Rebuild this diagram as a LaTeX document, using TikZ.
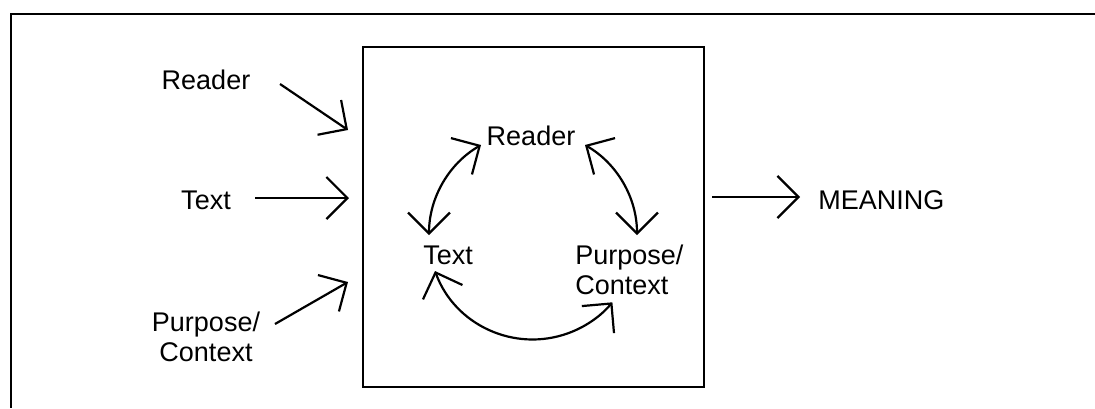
\documentclass[tikz,border=0pt]{standalone}
\usepackage{fontspec}
\setmainfont{Liberation Sans}
\usetikzlibrary{arrows.meta}

\begin{document}
\begin{tikzpicture}[x=0.5pt, y=-0.5pt,
        lbl/.style={font=\fontsize{13.5}{15}\selectfont},
        arr/.style={-{Straight Barb[length=10.5pt,width=21pt]}, line width=1.1pt},
        dbl/.style={{Straight Barb[length=10.5pt,width=21pt]}-{Straight Barb[length=10.5pt,width=21pt]}, line width=1.1pt}]
        \useasboundingbox (0,0) rectangle (1095,408);
        % frame
        \draw[line width=0.7pt] (1095,14) -- (11,14) -- (11,408);
        \node[draw, line width=0.8pt, minimum width=170.5pt, minimum height=170pt, inner sep=0pt] (box) at (533.5,217) {};
        % inputs
        \node[lbl] (rdrL) at (206,80) {Reader};
        \node[lbl] (txtL) at (206,200) {Text};
        \node[lbl, align=center] (ppsL) at (206,337) {Purpose/\\Context};
        \coordinate (rdrA) at (280,84);  \coordinate (rdrB) at (348,130);
        \coordinate (txtA) at (255,198); \coordinate (txtB) at (349,198);
        \coordinate (ppsA) at (275,324); \coordinate (ppsB) at (348,282);
        \foreach \n in {rdr,txt,pps} {
            \draw[arr] (\n A) -- (\n B);
        }
        % cycle
        \node[lbl] (rdr) at (531,136) {Reader};
        \node[lbl] (txt) at (448,255) {Text};
        \node[lbl, align=left, anchor=west, inner sep=0pt] (pps) at (575,270) {Purpose/\\Context};
        \coordinate (cRT) at (481,145);
        \coordinate (cRP) at (585,145);
        \coordinate (cTP) at (435,271);
        \draw[dbl] (cRT) arc[start angle=120, end angle=180, radius=52pt];
        \draw[dbl] (cRP) arc[start angle=60, end angle=0, radius=52pt];
        \draw[dbl] (cTP) arc[start angle=200, end angle=320, radius=52pt];
        % output
        \node[lbl, anchor=west, inner sep=0pt] (mng) at (818,200) {MEANING};
        \coordinate (mngA) at (712,197); \coordinate (mngB) at (800,197);
        \draw[arr] (mngA) -- (mngB);
    \end{tikzpicture}
\end{document}
